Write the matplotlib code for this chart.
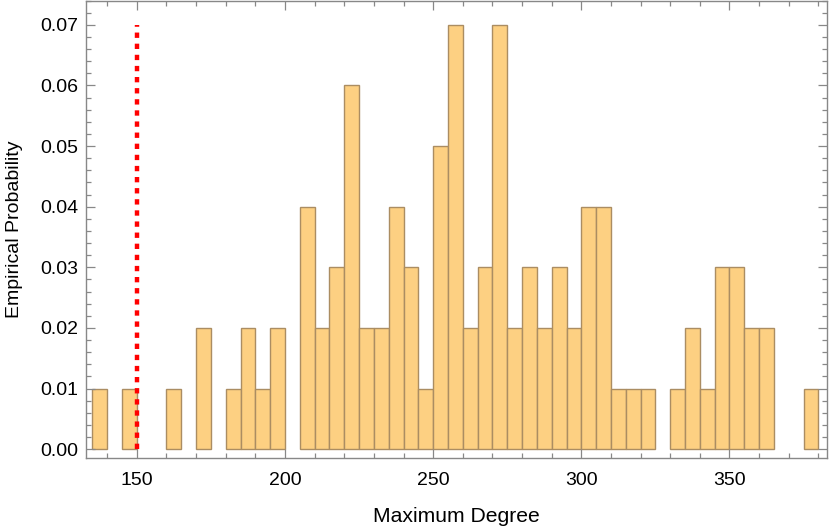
import numpy as np
import matplotlib.pyplot as plt
from matplotlib.ticker import MultipleLocator

# bin left edges (width 5) and empirical probabilities
bin_left = list(range(135, 380, 5))
probs = [0.01, 0.00, 0.01, 0.00, 0.00, 0.01, 0.00, 0.02, 0.00, 0.01,
         0.02, 0.01, 0.02, 0.00, 0.04, 0.02, 0.03, 0.06, 0.02, 0.02,
         0.04, 0.03, 0.01, 0.05, 0.07, 0.02, 0.03, 0.07, 0.02, 0.03,
         0.02, 0.03, 0.02, 0.04, 0.04, 0.01, 0.01, 0.01, 0.00, 0.01,
         0.02, 0.01, 0.03, 0.03, 0.02, 0.02, 0.00, 0.00, 0.01]
bin_width = 5
threshold = 150
threshold_top = 0.07

plt.rcParams['font.family'] = ['Liberation Sans', 'DejaVu Sans']

fig = plt.figure(figsize=(8.3, 5.3), dpi=100)
ax = fig.add_axes([0.1042, 0.1364, 0.8918, 0.8626])

for x, p in zip(bin_left, probs):
    if p > 0:
        ax.bar(x, p, width=bin_width, align='edge', color='#fdd082',
               edgecolor='#ab8d62', linewidth=1.0)

# dotted threshold line
ax.plot([threshold, threshold], [0, threshold_top], color='#ff0000',
        linewidth=3.2, dashes=(1.2, 1.3), solid_capstyle='butt',
        dash_capstyle='butt', zorder=5)

ax.set_xlim(133.0, 382.8)
ax.set_ylim(-0.0014, 0.0740)

ax.xaxis.set_major_locator(MultipleLocator(50))
ax.xaxis.set_minor_locator(MultipleLocator(10))
ax.yaxis.set_major_locator(MultipleLocator(0.01))
ax.yaxis.set_minor_locator(MultipleLocator(0.002))
ax.yaxis.set_major_formatter(plt.FuncFormatter(lambda v, _: f"{v:.2f}"))

ax.tick_params(which='both', direction='in', top=True, right=True,
               color='#888888', width=0.9, labelsize=14, labelcolor='black')
ax.tick_params(which='major', length=6.7, pad=6)
ax.tick_params(axis='x', which='major', pad=10.5)
ax.tick_params(which='minor', length=3.8)
for s in ax.spines.values():
    s.set_color('#888888')
    s.set_linewidth(1.0)

ax.set_xlabel("Maximum Degree", fontsize=15.2, labelpad=13)
ax.set_ylabel("Empirical Probability", fontsize=14, labelpad=12)

fig.savefig("out.png", dpi=100)
